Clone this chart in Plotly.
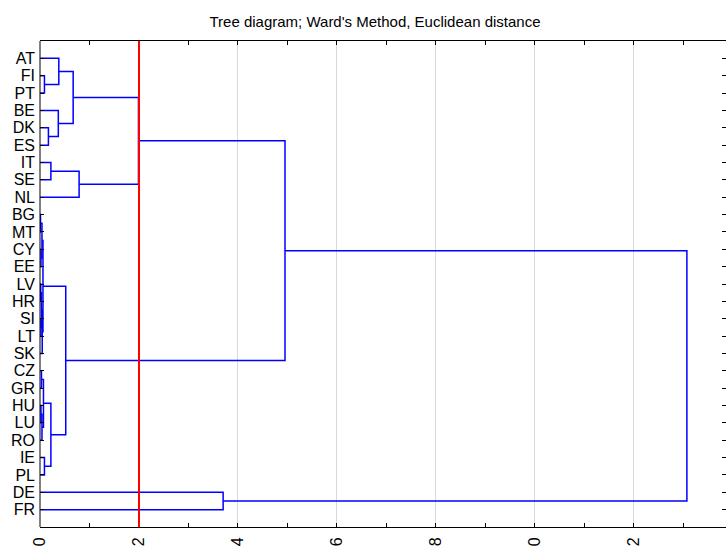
import plotly.graph_objects as go

# ---- data ----
leaves = ["AT", "FI", "PT", "BE", "DK", "ES", "IT", "SE", "NL", "BG", "MT", "CY", "EE",
          "LV", "HR", "SI", "LT", "SK", "CZ", "GR", "HU", "LU", "RO", "IE", "PL", "DE", "FR"]
# merges (scipy-like): node ids 0..26 are leaves, 27.. are clusters in order
merge_left = [1, 0, 4, 3, 28, 6, 32, 31, 9, 11, 35, 13, 15, 38, 40, 37, 18, 20, 44, 43, 23, 46, 42, 34, 25, 50]
merge_right = [2, 27, 5, 29, 30, 7, 8, 33, 10, 12, 36, 14, 16, 39, 17, 41, 19, 21, 22, 45, 24, 47, 48, 49, 26, 51]
merge_height = [0.09, 0.38, 0.17, 0.37, 0.67, 0.22, 0.79, 1.99, 0.01, 0.02, 0.04, 0.015, 0.02, 0.03,
                0.045, 0.06, 0.03, 0.02, 0.04, 0.07, 0.09, 0.22, 0.52, 4.95, 3.70, 13.07]
cut_distance = 2.0
x_ticks = [0, 2, 4, 6, 8, 10, 12, 14]
title_text = "Tree diagram; Ward's Method, Euclidean distance"

# ---- compute dendrogram link paths ----
n = len(leaves)
pos = {i: float(i) for i in range(n)}
hgt = {i: 0.0 for i in range(n)}
xs, ys = [], []
for k, (a, b, h) in enumerate(zip(merge_left, merge_right, merge_height)):
    node = n + k
    xs += [hgt[a], h, h, hgt[b], None]
    ys += [pos[a], pos[a], pos[b], pos[b], None]
    pos[node] = (pos[a] + pos[b]) / 2
    hgt[node] = h

FONT = "Liberation Sans, Arial, sans-serif"

fig = go.Figure()
fig.add_trace(go.Scatter(x=xs, y=ys, mode="lines",
                         line=dict(color="#0000ff", width=1.5),
                         hoverinfo="skip", showlegend=False))

# left frame line (right side of the frame is outside the visible area)
fig.add_shape(type="line", xref="paper", yref="paper", x0=0, x1=0, y0=0, y1=1,
              line=dict(color="black", width=1), layer="above")
fig.add_shape(type="line", xref="x", yref="paper", x0=cut_distance, x1=cut_distance,
              y0=0, y1=1, line=dict(color="#ff0000", width=2), layer="above")

fig.update_layout(
    width=726, height=547,
    margin=dict(l=40, r=0, t=41, b=20),
    paper_bgcolor="white", plot_bgcolor="white",
    font=dict(family=FONT, size=16, color="black"),
    title=dict(text=title_text, x=375 / 726, xref="container", xanchor="center",
               y=1 - 22 / 547, yref="container", yanchor="middle",
               font=dict(family=FONT, size=15, color="black")),
    showlegend=False,
)
fig.update_xaxes(
    range=[0, 13.86], tickvals=x_ticks, ticktext=[str(v) for v in x_ticks],
    tickangle=-90, ticks="inside", ticklen=4, tickcolor="black",
    showline=True, linecolor="black", linewidth=1, mirror="allticks",
    showgrid=True, gridcolor="#d9d9d9", gridwidth=1, zeroline=False,
    minor=dict(dtick=1, tick0=0, ticks="inside", ticklen=4, tickcolor="black", showgrid=False),
    tickfont=dict(family=FONT, size=16, color="black"), automargin=False,
    ticklabelstandoff=3,
)
fig.update_yaxes(
    range=[n, -1], tickvals=list(range(n)), ticktext=leaves,
    ticks="inside", ticklen=4, tickcolor="black",
    showline=False, mirror="allticks",
    showgrid=False, zeroline=False,
    tickfont=dict(family=FONT, size=16, color="black"), automargin=False,
    ticklabelstandoff=4,
)

fig.write_html("out.html")
